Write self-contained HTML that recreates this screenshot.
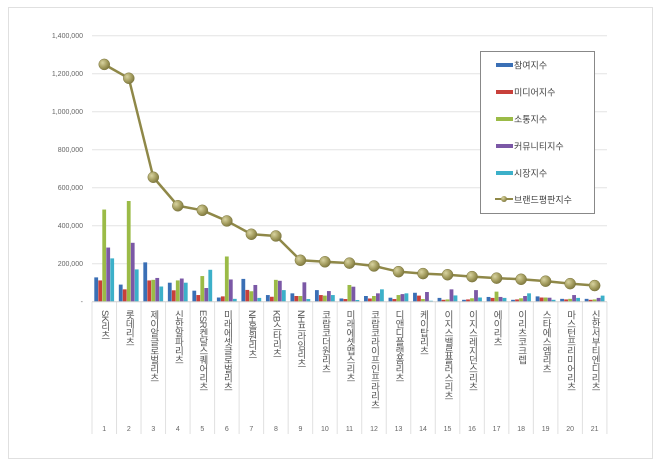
<!DOCTYPE html>
<html><head><meta charset="utf-8"><style>
body{margin:0;background:#fff;}
svg{display:block;font-family:"Liberation Sans","Noto Sans CJK KR",sans-serif;}
</style></head><body>
<svg width="660" height="468" viewBox="0 0 660 468" xmlns="http://www.w3.org/2000/svg">
<defs>
<radialGradient id="m" cx="0.35" cy="0.35" r="0.7"><stop offset="0" stop-color="#d8d3a0"/><stop offset="0.6" stop-color="#a39c5e"/><stop offset="1" stop-color="#7d773f"/></radialGradient>
</defs>
<rect x="8.5" y="7.5" width="644" height="451" fill="#fff" stroke="#e0e0e0"/>
<g id="grid" stroke="#e3e3e3" stroke-width="1"></g>
<g id="ylab" font-size="7" fill="#666" text-anchor="end"></g>
<g id="bars"></g>
<g id="xlab"></g>
<g id="line"></g>
<rect x="480.5" y="51.5" width="114" height="162" fill="#fff" stroke="#888"/>
<g font-size="9" fill="#444">
<rect x="496" y="63" width="17" height="4" fill="#3a6fb5"/><text x="514" y="68.5">참여지수</text>
<rect x="496" y="90" width="17" height="4" fill="#c8403a"/><text x="514" y="95.5">미디어지수</text>
<rect x="496" y="117" width="17" height="4" fill="#9bbb47"/><text x="514" y="122.5">소통지수</text>
<rect x="496" y="144" width="17" height="4" fill="#7b58a6"/><text x="514" y="149.5">커뮤니티지수</text>
<rect x="496" y="171" width="17" height="4" fill="#3cb0c9"/><text x="514" y="176.5">시장지수</text>
<line x1="495" y1="199" x2="513" y2="199" stroke="#8f8848" stroke-width="2"/><circle cx="504" cy="199" r="3" fill="url(#m)"/><text x="514" y="203">브랜드평판지수</text>
</g>
<script>
var ns="http://www.w3.org/2000/svg";
function el(p,t,a,txt){var e=document.createElementNS(ns,t);for(var k in a)e.setAttribute(k,a[k]);if(txt!=null)e.textContent=txt;document.getElementById(p).appendChild(e);return e;}
var y0=301.7,sc=190/1e6,x0=92,cw=24.52;
var ylabels=["-","200,000","400,000","600,000","800,000","1,000,000","1,200,000","1,400,000"];
for(var i=0;i<=7;i++){var y=y0-i*200000*sc;if(i>0)el("grid","line",{x1:92,x2:607,y1:y,y2:y});el("ylab","text",{x:83,y:y+2.5},ylabels[i]);}
var names=["SK리츠","롯데리츠","제이알글로벌리츠","신한알파리츠","ESR켄달스퀘어리츠","미래에셋글로벌리츠","NH올원리츠","KB스타리츠","NH프라임리츠","코람코더원리츠","미래에셋맵스리츠","코람코라이프인프라리츠","디앤디플랫폼리츠","케이탑리츠","이지스밸류플러스리츠","이지스레지던스리츠","에이리츠","이리츠코크렙","스타에스엠리츠","마스턴프리미어리츠","신한서부티엔디리츠"];
var bars=[[128,112,485,285,228],[90,65,530,310,170],[207,112,115,125,80],[100,60,112,122,100],[58,35,135,72,168],[22,28,238,117,15],[120,62,55,88,20],[35,26,115,110,61],[44,30,30,102,14],[61,35,32,56,35],[17,14,88,79,9],[30,17,30,44,65],[21,14,35,40,44],[47,32,14,51,5],[20,10,12,65,33],[10,12,18,61,22],[25,20,53,25,20],[10,12,18,30,44],[28,22,22,21,10],[15,12,15,35,20],[15,10,12,20,32]];
var cols=["#3a6fb5","#c8403a","#9bbb47","#7b58a6","#3cb0c9"];
var line=[1249,1176,655,505,481,425,355,346,218,210,203,188,158,148,142,132,124,118,108,95,85];
for(var c=0;c<21;c++){
 var cx=x0+c*cw;
 for(var j=0;j<5;j++){var h=bars[c][j]*1000*sc;el("bars","rect",{x:cx+2.3+j*4,y:y0-h,width:3.8,height:h,fill:cols[j]});}
 el("xlab","line",{x1:cx,x2:cx,y1:y0,y2:434,stroke:"#e0e0e0"});
 el("xlab","text",{x:cx+cw/2,y:310,"font-size":"9.5",fill:"#555",style:"writing-mode:vertical-rl;text-orientation:mixed;letter-spacing:-0.5px"},names[c]);
 el("xlab","text",{x:cx+cw/2,y:431,"font-size":"7","fill":"#666","text-anchor":"middle"},String(c+1));
}
el("xlab","line",{x1:x0+21*cw,x2:x0+21*cw,y1:y0,y2:434,stroke:"#e0e0e0"});
el("xlab","line",{x1:x0,x2:607,y1:y0,y2:y0,stroke:"#d0d0d0"});
var pts=line.map(function(v,c){return (x0+c*cw+cw/2)+","+(y0-v*1000*sc);}).join(" ");
el("line","polyline",{points:pts,fill:"none",stroke:"#8f8848","stroke-width":"2.5","stroke-linejoin":"round"});
line.forEach(function(v,c){el("line","circle",{cx:x0+c*cw+cw/2,cy:y0-v*1000*sc,r:5.5,fill:"url(#m)",stroke:"#7d773f","stroke-width":"0.5"});});
</script>
</svg>
</body></html>
